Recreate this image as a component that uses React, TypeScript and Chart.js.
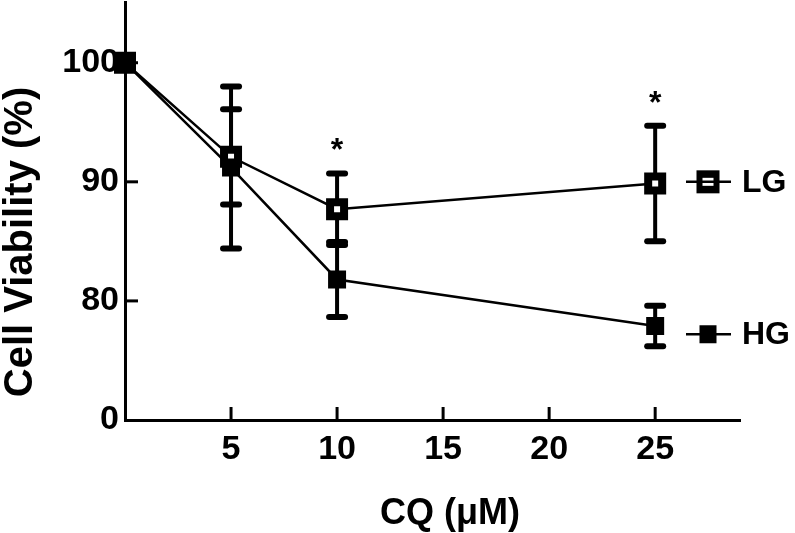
import React, { useEffect, useRef } from 'react';
import { Chart, registerables } from 'chart.js';
Chart.register(...registerables);

// ---- data ----
const xValues = [0, 5, 10, 25];
const lgMean = [100, 92.1, 87.7, 89.85];
const lgErr = [0, 4.0, 3.0, 4.85];
const hgMean = [100, 91.2, 81.8, 77.9];
const hgErr = [0, 6.8, 3.15, 1.7];
const sigX = [10, 25];
const yTickValues = [70, 80, 90, 100];
const yTickLabels = ['0', '80', '90', '100'];
const xTickValues = [5, 10, 15, 20, 25];
const seriesNames = ['LG', 'HG'];

const FONT = "'Liberation Sans', Arial, sans-serif";

export default function App() {
  const ref = useRef<HTMLCanvasElement>(null);
  useEffect(() => {
    document.body.style.margin = '0';
    const canvas = ref.current!;
    const means = [lgMean, hgMean];
    const errs = [lgErr, hgErr];

    const line = (ctx: CanvasRenderingContext2D, x1: number, y1: number, x2: number, y2: number) => {
      ctx.beginPath();
      ctx.moveTo(x1, y1);
      ctx.lineTo(x2, y2);
      ctx.stroke();
    };

    const plugin = {
      id: 'custom',
      beforeDatasetsDraw(chart: any) {
        const { ctx, scales: { x, y } } = chart;
        ctx.save();
        ctx.strokeStyle = '#000';
        errs.forEach((errArr, di) => {
          xValues.forEach((xv, i) => {
            const e = errArr[i];
            if (!e) return;
            const px = x.getPixelForValue(xv);
            const top = y.getPixelForValue(means[di][i] + e);
            const bot = y.getPixelForValue(means[di][i] - e);
            ctx.lineWidth = 4;
            ctx.lineCap = 'butt';
            line(ctx, px, top, px, bot);
            ctx.lineWidth = 6;
            ctx.lineCap = 'round';
            line(ctx, px - 8, top, px + 8, top);
            line(ctx, px - 8, bot, px + 8, bot);
          });
        });
        ctx.restore();
      },
      afterDraw(chart: any) {
        const { ctx, scales: { x, y }, chartArea } = chart;
        ctx.save();
        ctx.strokeStyle = '#000';
        ctx.fillStyle = '#000';
        ctx.lineWidth = 3;
        ctx.lineCap = 'butt';
        // inward tick marks
        yTickValues.slice(1).forEach((v) => {
          const py = y.getPixelForValue(v);
          line(ctx, chartArea.left, py, chartArea.left + 13, py);
        });
        xTickValues.forEach((v) => {
          const px = x.getPixelForValue(v);
          line(ctx, px, chartArea.bottom, px, chartArea.bottom - 13);
        });
        // significance asterisks above LG
        ctx.font = `bold 32px ${FONT}`;
        ctx.textAlign = 'center';
        ctx.textBaseline = 'alphabetic';
        sigX.forEach((sx) => {
          const i = xValues.indexOf(sx);
          const py = y.getPixelForValue(lgMean[i] + lgErr[i]);
          ctx.fillText('*', x.getPixelForValue(sx), py - 13);
        });
        // legend
        const legendY = [y.getPixelForValue(90), y.getPixelForValue(77.2)];
        const lx1 = chartArea.right - 54;
        const lx2 = chartArea.right - 9;
        const mx = chartArea.right - 32;
        legendY.forEach((ly, i) => {
          ctx.lineWidth = 2.5;
          if (i === 0) {
            ctx.fillRect(mx - 11.5, ly - 11.5, 23, 23);
            ctx.fillStyle = '#fff';
            ctx.fillRect(mx - 5.5, ly - 4, 11, 8);
            ctx.fillStyle = '#000';
          } else {
            ctx.fillRect(mx - 8.5, ly - 9, 17, 18);
          }
          line(ctx, lx1, ly, lx2, ly);
          ctx.font = `bold 32px ${FONT}`;
          ctx.textAlign = 'left';
          ctx.textBaseline = 'middle';
          ctx.fillText(seriesNames[i], chartArea.right + 2, ly + 1);
        });
        // axis titles
        ctx.font = `bold 36px ${FONT}`;
        ctx.textAlign = 'center';
        ctx.textBaseline = 'middle';
        ctx.fillText('CQ (\u03bcM)', 450, 514);
        ctx.save();
        ctx.translate(21, 242);
        ctx.rotate(-Math.PI / 2);
        ctx.font = `bold 40px ${FONT}`;
        ctx.fillText('Cell Viability (%)', 0, 0);
        ctx.restore();
        ctx.restore();
      },
    };

    const chart = new Chart(canvas, {
      type: 'line',
      data: {
        datasets: [
          {
            label: seriesNames[0],
            data: xValues.map((xv, i) => ({ x: xv, y: lgMean[i] })),
            borderColor: '#000',
            borderWidth: 2.5,
            pointStyle: 'rect',
            pointRadius: 9.9,
            pointBorderWidth: 8,
            pointBackgroundColor: '#fff',
            pointBorderColor: '#000',
            clip: false as any,
            order: 2,
          },
          {
            label: seriesNames[1],
            data: xValues.map((xv, i) => ({ x: xv, y: hgMean[i] })),
            borderColor: '#000',
            borderWidth: 2.5,
            pointStyle: 'rect',
            pointRadius: 11.3,
            pointBorderWidth: 2,
            pointBackgroundColor: '#000',
            pointBorderColor: '#000',
            clip: false as any,
            order: 1,
          },
        ],
      },
      options: {
        responsive: false,
        animation: false,
        layout: { autoPadding: false, padding: { top: 2, right: 55, left: 0, bottom: 0 } },
        plugins: { legend: { display: false }, tooltip: { enabled: false } },
        scales: {
          x: {
            type: 'linear',
            min: 0,
            max: 29,
            afterFit: (s: any) => { s.height = 113; s.paddingLeft = 0; s.paddingRight = 0; },
            afterBuildTicks: (s: any) => { s.ticks = xTickValues.map((v) => ({ value: v })); },
            grid: { display: true, drawOnChartArea: false, drawTicks: false },
            border: { display: true, color: '#000', width: 3 },
            ticks: {
              autoSkip: false,
              maxRotation: 0,
              padding: 9,
              color: '#000',
              font: { family: FONT, size: 34, weight: 'bold' },
            },
          },
          y: {
            type: 'linear',
            min: 70,
            max: 105.1,
            afterFit: (s: any) => { s.width = 125; s.paddingTop = 0; s.paddingBottom = 0; },
            afterBuildTicks: (s: any) => { s.ticks = yTickValues.map((v) => ({ value: v })); },
            grid: { display: true, drawOnChartArea: false, drawTicks: false },
            border: { display: true, color: '#000', width: 3 },
            ticks: {
              autoSkip: false,
              padding: 6,
              color: '#000',
              font: { family: FONT, size: 34, weight: 'bold' },
              callback: (v: any) => {
                const i = yTickValues.indexOf(Number(v));
                return i >= 0 ? yTickLabels[i] : '';
              },
            },
          },
        },
      },
      plugins: [plugin],
    });
    return () => chart.destroy();
  }, []);

  return (
    <div style={{ width: 795, height: 533 }}>
      <canvas ref={ref} width={795} height={533} style={{ display: 'block' }} />
    </div>
  );
}
